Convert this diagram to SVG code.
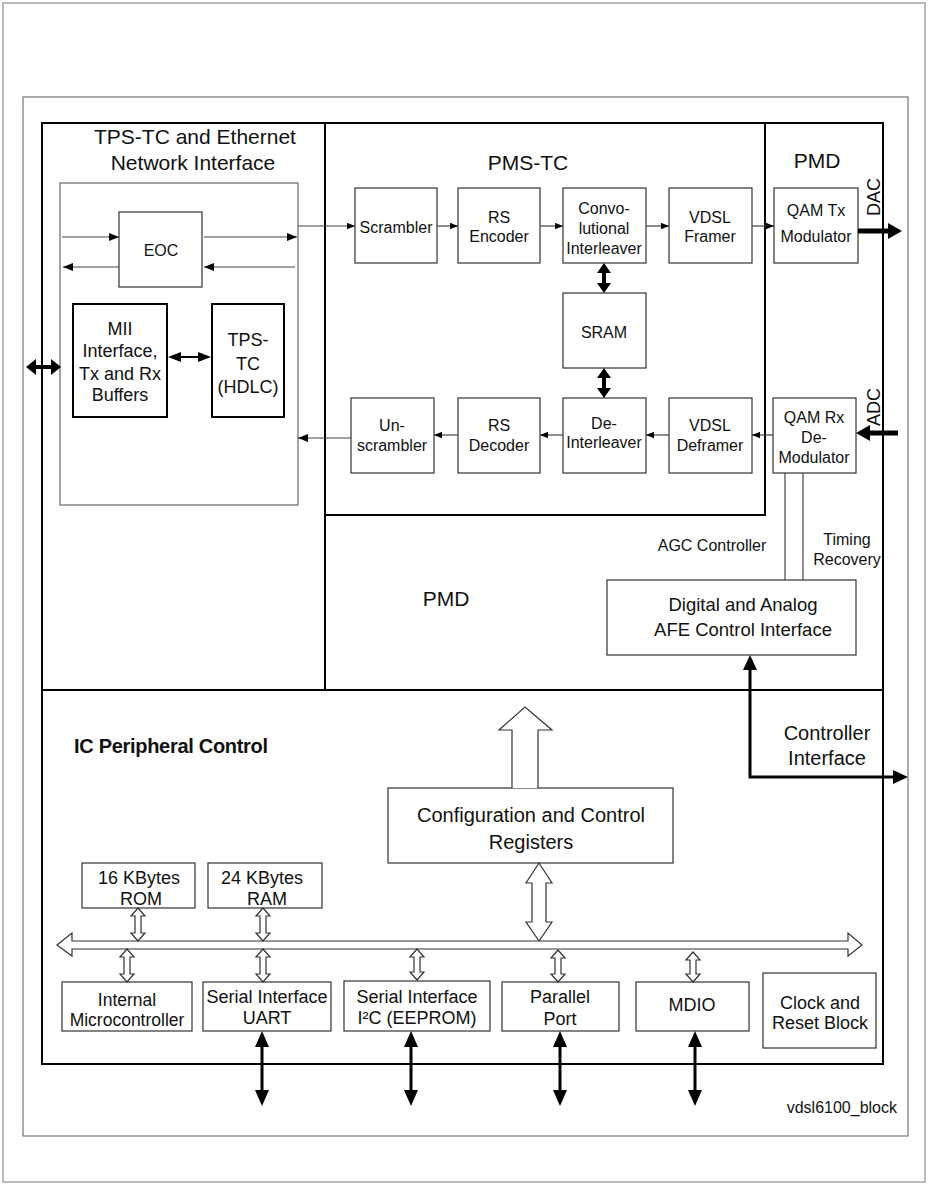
<svg xmlns="http://www.w3.org/2000/svg" width="928" height="1185" viewBox="0 0 928 1185">
<style>
text{font-family:"Liberation Sans",Arial,Helvetica,sans-serif;fill:#111}
.b{fill:#fff;stroke:#333;stroke-width:1.2}
.m{text-anchor:middle}
.s16{font-size:16px}
.s18{font-size:18px}
.s20{font-size:20px}
.s21{font-size:21px}
.ln{stroke:#444;stroke-width:1.2;fill:none}
.hol{fill:#fff;stroke:#333;stroke-width:1.2}
.thk{stroke:#000;fill:none}
.hd{fill:#000}
</style>
<defs>
<marker id="ah" viewBox="0 0 10 8" refX="10" refY="4" markerWidth="8" markerHeight="7" markerUnits="userSpaceOnUse" orient="auto"><path d="M0,0L10,4L0,8z" fill="#000"/></marker>
<marker id="ahL" viewBox="0 0 10 8" refX="10" refY="4" markerWidth="11" markerHeight="8" markerUnits="userSpaceOnUse" orient="auto"><path d="M0,0L10,4L0,8z" fill="#000"/></marker>
</defs>

<g id="frames">
<rect x="3" y="3" width="922" height="1179" fill="none" stroke="#777" stroke-width="1"/>
<rect x="23" y="97" width="885" height="1039" fill="none" stroke="#777" stroke-width="1.2"/>
<rect x="42" y="123" width="841" height="941" fill="none" stroke="#000" stroke-width="2"/>
<line x1="42" y1="690" x2="883" y2="690" stroke="#000" stroke-width="2"/>
<line x1="325" y1="123" x2="325" y2="690" stroke="#000" stroke-width="2"/>
<path d="M765,123V515H325" fill="none" stroke="#000" stroke-width="2"/>
</g>

<g id="labels">
<text class="m s21" x="195" y="144">TPS-TC and Ethernet</text>
<text class="m s21" x="193" y="170">Network Interface</text>
<text class="m s21" x="528" y="170">PMS-TC</text>
<text class="m s21" x="817" y="168">PMD</text>
<text class="m s21" x="446" y="606">PMD</text>
<text x="74" y="753" style="font-size:20px;font-weight:bold;letter-spacing:-0.3px">IC Peripheral Control</text>
<text class="m s16" x="712" y="551">AGC Controller</text>
<text class="m s16" x="847" y="545">Timing</text>
<text class="m s16" x="847" y="565">Recovery</text>
<text class="m s20" x="827" y="740">Controller</text>
<text class="m s20" x="827" y="765">Interface</text>
<text class="m" style="font-size:18px" transform="translate(880,197) rotate(-90)">DAC</text>
<text class="m" style="font-size:18px" transform="translate(880,407) rotate(-90)">ADC</text>
<text class="s16" x="897" y="1113" text-anchor="end">vdsl6100_block</text>
</g>

<g id="tps-inner"><rect x="60" y="183" width="238" height="322" fill="none" stroke="#666" stroke-width="1.2"/></g>

<g id="eoc"><rect class="b" x="119" y="212" width="83" height="75"/><text class="m s16" x="161" y="256">EOC</text></g>

<g id="mii"><rect x="73" y="304" width="94" height="113" fill="#fff" stroke="#000" stroke-width="2"/>
<text class="m s18" x="120" y="335">MII</text>
<text class="m s18" x="120" y="357">Interface,</text>
<text class="m s18" x="120" y="380">Tx and Rx</text>
<text class="m s18" x="120" y="401">Buffers</text></g>

<g id="tpstc"><rect x="212" y="304" width="72" height="113" fill="#fff" stroke="#000" stroke-width="2"/>
<text class="m s18" x="248" y="346">TPS-</text>
<text class="m s18" x="248" y="370">TC</text>
<text class="m s18" x="248" y="393">(HDLC)</text></g>

<g id="scrambler"><rect class="b" x="355" y="188" width="82" height="75"/><text class="m s16" x="396" y="233">Scrambler</text></g>
<g id="rs-encoder"><rect class="b" x="458" y="188" width="82" height="75"/><text class="m s16" x="499" y="223">RS</text><text class="m s16" x="499" y="242">Encoder</text></g>
<g id="conv-interleaver"><rect class="b" x="563" y="188" width="83" height="75"/><text class="m s16" x="604" y="214">Convo-</text><text class="m s16" x="604" y="234">lutional</text><text class="m s16" x="604" y="254">Interleaver</text></g>
<g id="vdsl-framer"><rect class="b" x="669" y="188" width="83" height="75"/><text class="m s16" x="710" y="223">VDSL</text><text class="m s16" x="710" y="242">Framer</text></g>
<g id="sram"><rect class="b" x="563" y="293" width="83" height="75"/><text class="m s16" x="604" y="338">SRAM</text></g>
<g id="unscrambler"><rect class="b" x="351" y="398" width="83" height="75"/><text class="m s16" x="392" y="431">Un-</text><text class="m s16" x="392" y="451">scrambler</text></g>
<g id="rs-decoder"><rect class="b" x="458" y="398" width="82" height="75"/><text class="m s16" x="499" y="431">RS</text><text class="m s16" x="499" y="451">Decoder</text></g>
<g id="de-interleaver"><rect class="b" x="563" y="398" width="83" height="75"/><text class="m s16" x="604" y="429">De-</text><text class="m s16" x="604" y="448">Interleaver</text></g>
<g id="vdsl-deframer"><rect class="b" x="669" y="398" width="83" height="75"/><text class="m s16" x="710" y="431">VDSL</text><text class="m s16" x="710" y="451">Deframer</text></g>
<g id="qam-tx"><rect class="b" x="774" y="188" width="84" height="75"/><text class="m s16" x="816" y="216">QAM Tx</text><text class="m s16" x="816" y="242">Modulator</text></g>
<g id="qam-rx"><rect class="b" x="773" y="398" width="83" height="75"/><text class="m s16" x="814" y="423">QAM Rx</text><text class="m s16" x="814" y="443">De-</text><text class="m s16" x="814" y="463">Modulator</text></g>
<g id="afe"><rect class="b" x="607" y="580" width="249" height="75"/><text class="m" style="font-size:18.5px" x="743" y="611">Digital and Analog</text><text class="m" style="font-size:18.5px" x="743" y="636">AFE Control Interface</text></g>

<g id="config"><rect class="b" x="388" y="788" width="285" height="75"/><text class="m s20" x="531" y="822">Configuration and Control</text><text class="m s20" x="531" y="849">Registers</text></g>

<g id="rom"><rect class="b" x="82" y="863" width="113" height="45"/><text class="m s18" x="139" y="884">16 KBytes</text><text class="m s18" x="141" y="905">ROM</text></g>
<g id="ram"><rect class="b" x="208" y="863" width="114" height="45"/><text class="m s18" x="262" y="884">24 KBytes</text><text class="m s18" x="267" y="905">RAM</text></g>
<g id="micro"><rect class="b" x="62" y="982" width="130" height="49"/><text class="m" style="font-size:17.5px" x="127" y="1006">Internal</text><text class="m" style="font-size:17.5px" x="127" y="1026">Microcontroller</text></g>
<g id="uart"><rect class="b" x="203" y="982" width="128" height="49"/><text class="m s18" x="267" y="1003">Serial Interface</text><text class="m s18" x="267" y="1024">UART</text></g>
<g id="i2c"><rect class="b" x="344" y="981" width="146" height="50"/><text class="m s18" x="417" y="1003">Serial Interface</text><text class="m s18" x="417" y="1024">I²C (EEPROM)</text></g>
<g id="parallel"><rect class="b" x="502" y="982" width="117" height="49"/><text class="m s18" x="560" y="1003">Parallel</text><text class="m s18" x="560" y="1025">Port</text></g>
<g id="mdio"><rect class="b" x="636" y="982" width="113" height="49"/><text class="m s18" x="692" y="1011">MDIO</text></g>
<g id="clock"><rect class="b" x="763" y="973" width="113" height="75"/><text class="m s18" x="820" y="1009">Clock and</text><text class="m s18" x="820" y="1029">Reset Block</text></g>

<g id="connectors">
<line class="ln" x1="62" y1="237" x2="119" y2="237" marker-end="url(#ahL)"/>
<line class="ln" x1="119" y1="267" x2="63" y2="267" marker-end="url(#ahL)"/>
<line class="ln" x1="204" y1="237" x2="297" y2="237" marker-end="url(#ahL)"/>
<line class="ln" x1="295" y1="267" x2="204" y2="267" marker-end="url(#ahL)"/>
<line class="ln" x1="298" y1="226" x2="355" y2="226" marker-end="url(#ah)"/>
<line class="ln" x1="437" y1="226" x2="458" y2="226" marker-end="url(#ah)"/>
<line class="ln" x1="540" y1="226" x2="563" y2="226" marker-end="url(#ah)"/>
<line class="ln" x1="646" y1="226" x2="669" y2="226" marker-end="url(#ah)"/>
<line class="ln" x1="752" y1="226" x2="774" y2="226" marker-end="url(#ah)"/>
<line class="ln" x1="773" y1="435" x2="752" y2="435" marker-end="url(#ah)"/>
<line class="ln" x1="669" y1="435" x2="646" y2="435" marker-end="url(#ah)"/>
<line class="ln" x1="563" y1="435" x2="540" y2="435" marker-end="url(#ah)"/>
<line class="ln" x1="458" y1="435" x2="434" y2="435" marker-end="url(#ah)"/>
<line class="ln" x1="351" y1="438" x2="298" y2="438" marker-end="url(#ahL)"/>
<line class="ln" x1="785" y1="473" x2="785" y2="580"/>
<line class="ln" x1="803" y1="473" x2="803" y2="580"/>
<line class="thk" x1="34" y1="367" x2="53" y2="367" stroke-width="4"/>
<path class="hd" d="M26,367L36,359V375Z M61,367L51,359V375Z"/>
<line class="thk" x1="176" y1="357" x2="203" y2="357" stroke-width="2"/>
<path class="hd" d="M168,357L181,352V362Z M211,357L198,352V362Z"/>
<line class="thk" x1="604" y1="270" x2="604" y2="286" stroke-width="4"/>
<path class="hd" d="M604,263L597,273H611Z M604,293L597,283H611Z"/>
<line class="thk" x1="604" y1="375" x2="604" y2="391" stroke-width="4"/>
<path class="hd" d="M604,368L597,378H611Z M604,398L597,388H611Z"/>
<line class="thk" x1="858" y1="231" x2="890" y2="231" stroke-width="5"/>
<path class="hd" d="M902,231L888,223V239Z"/>
<line class="thk" x1="898" y1="433" x2="868" y2="433" stroke-width="5"/>
<path class="hd" d="M856,433L870,425V441Z"/>
<path class="thk" d="M750,668V777H895" stroke-width="3"/>
<path class="hd" d="M750,655L743,670H757Z M908,777L893,770V784Z"/>
<path class="hol" d="M512,788V730H499L525,707L552,730H538V788"/>
<path class="hol" d="M539,863L552,883H546V922H552L539,941L526,922H532V883H526Z"/>
<path class="hol" d="M57,945L72,933V941H848V933L862,945L848,956V949H72V956Z"/>
<path class="hol" d="M138,908L145,916H141V933H145L138,941L131,933H135V916H131Z"/>
<path class="hol" d="M263,908L270,916H266V933H270L263,941L256,933H260V916H256Z"/>
<path class="hol" d="M127,949L134,957H130V974H134L127,982L120,974H124V957H120Z"/>
<path class="hol" d="M263,949L270,957H266V974H270L263,982L256,974H260V957H256Z"/>
<path class="hol" d="M417,949L424,957H420V972H424L417,980L410,972H414V957H410Z"/>
<path class="hol" d="M558,950L565,958H561V974H565L558,982L551,974H555V958H551Z"/>
<path class="hol" d="M693,952L700,960H696V974H700L693,982L686,974H690V960H686Z"/>
<line class="thk" x1="262" y1="1045" x2="262" y2="1092" stroke-width="3"/>
<path class="hd" d="M262,1031L255,1047H269Z M262,1106L255,1090H269Z"/>
<line class="thk" x1="411" y1="1045" x2="411" y2="1092" stroke-width="3"/>
<path class="hd" d="M411,1031L404,1047H418Z M411,1106L404,1090H418Z"/>
<line class="thk" x1="560" y1="1045" x2="560" y2="1092" stroke-width="3"/>
<path class="hd" d="M560,1031L553,1047H567Z M560,1106L553,1090H567Z"/>
<line class="thk" x1="695" y1="1045" x2="695" y2="1092" stroke-width="3"/>
<path class="hd" d="M695,1031L688,1047H702Z M695,1106L688,1090H702Z"/>
</g>
</svg>
